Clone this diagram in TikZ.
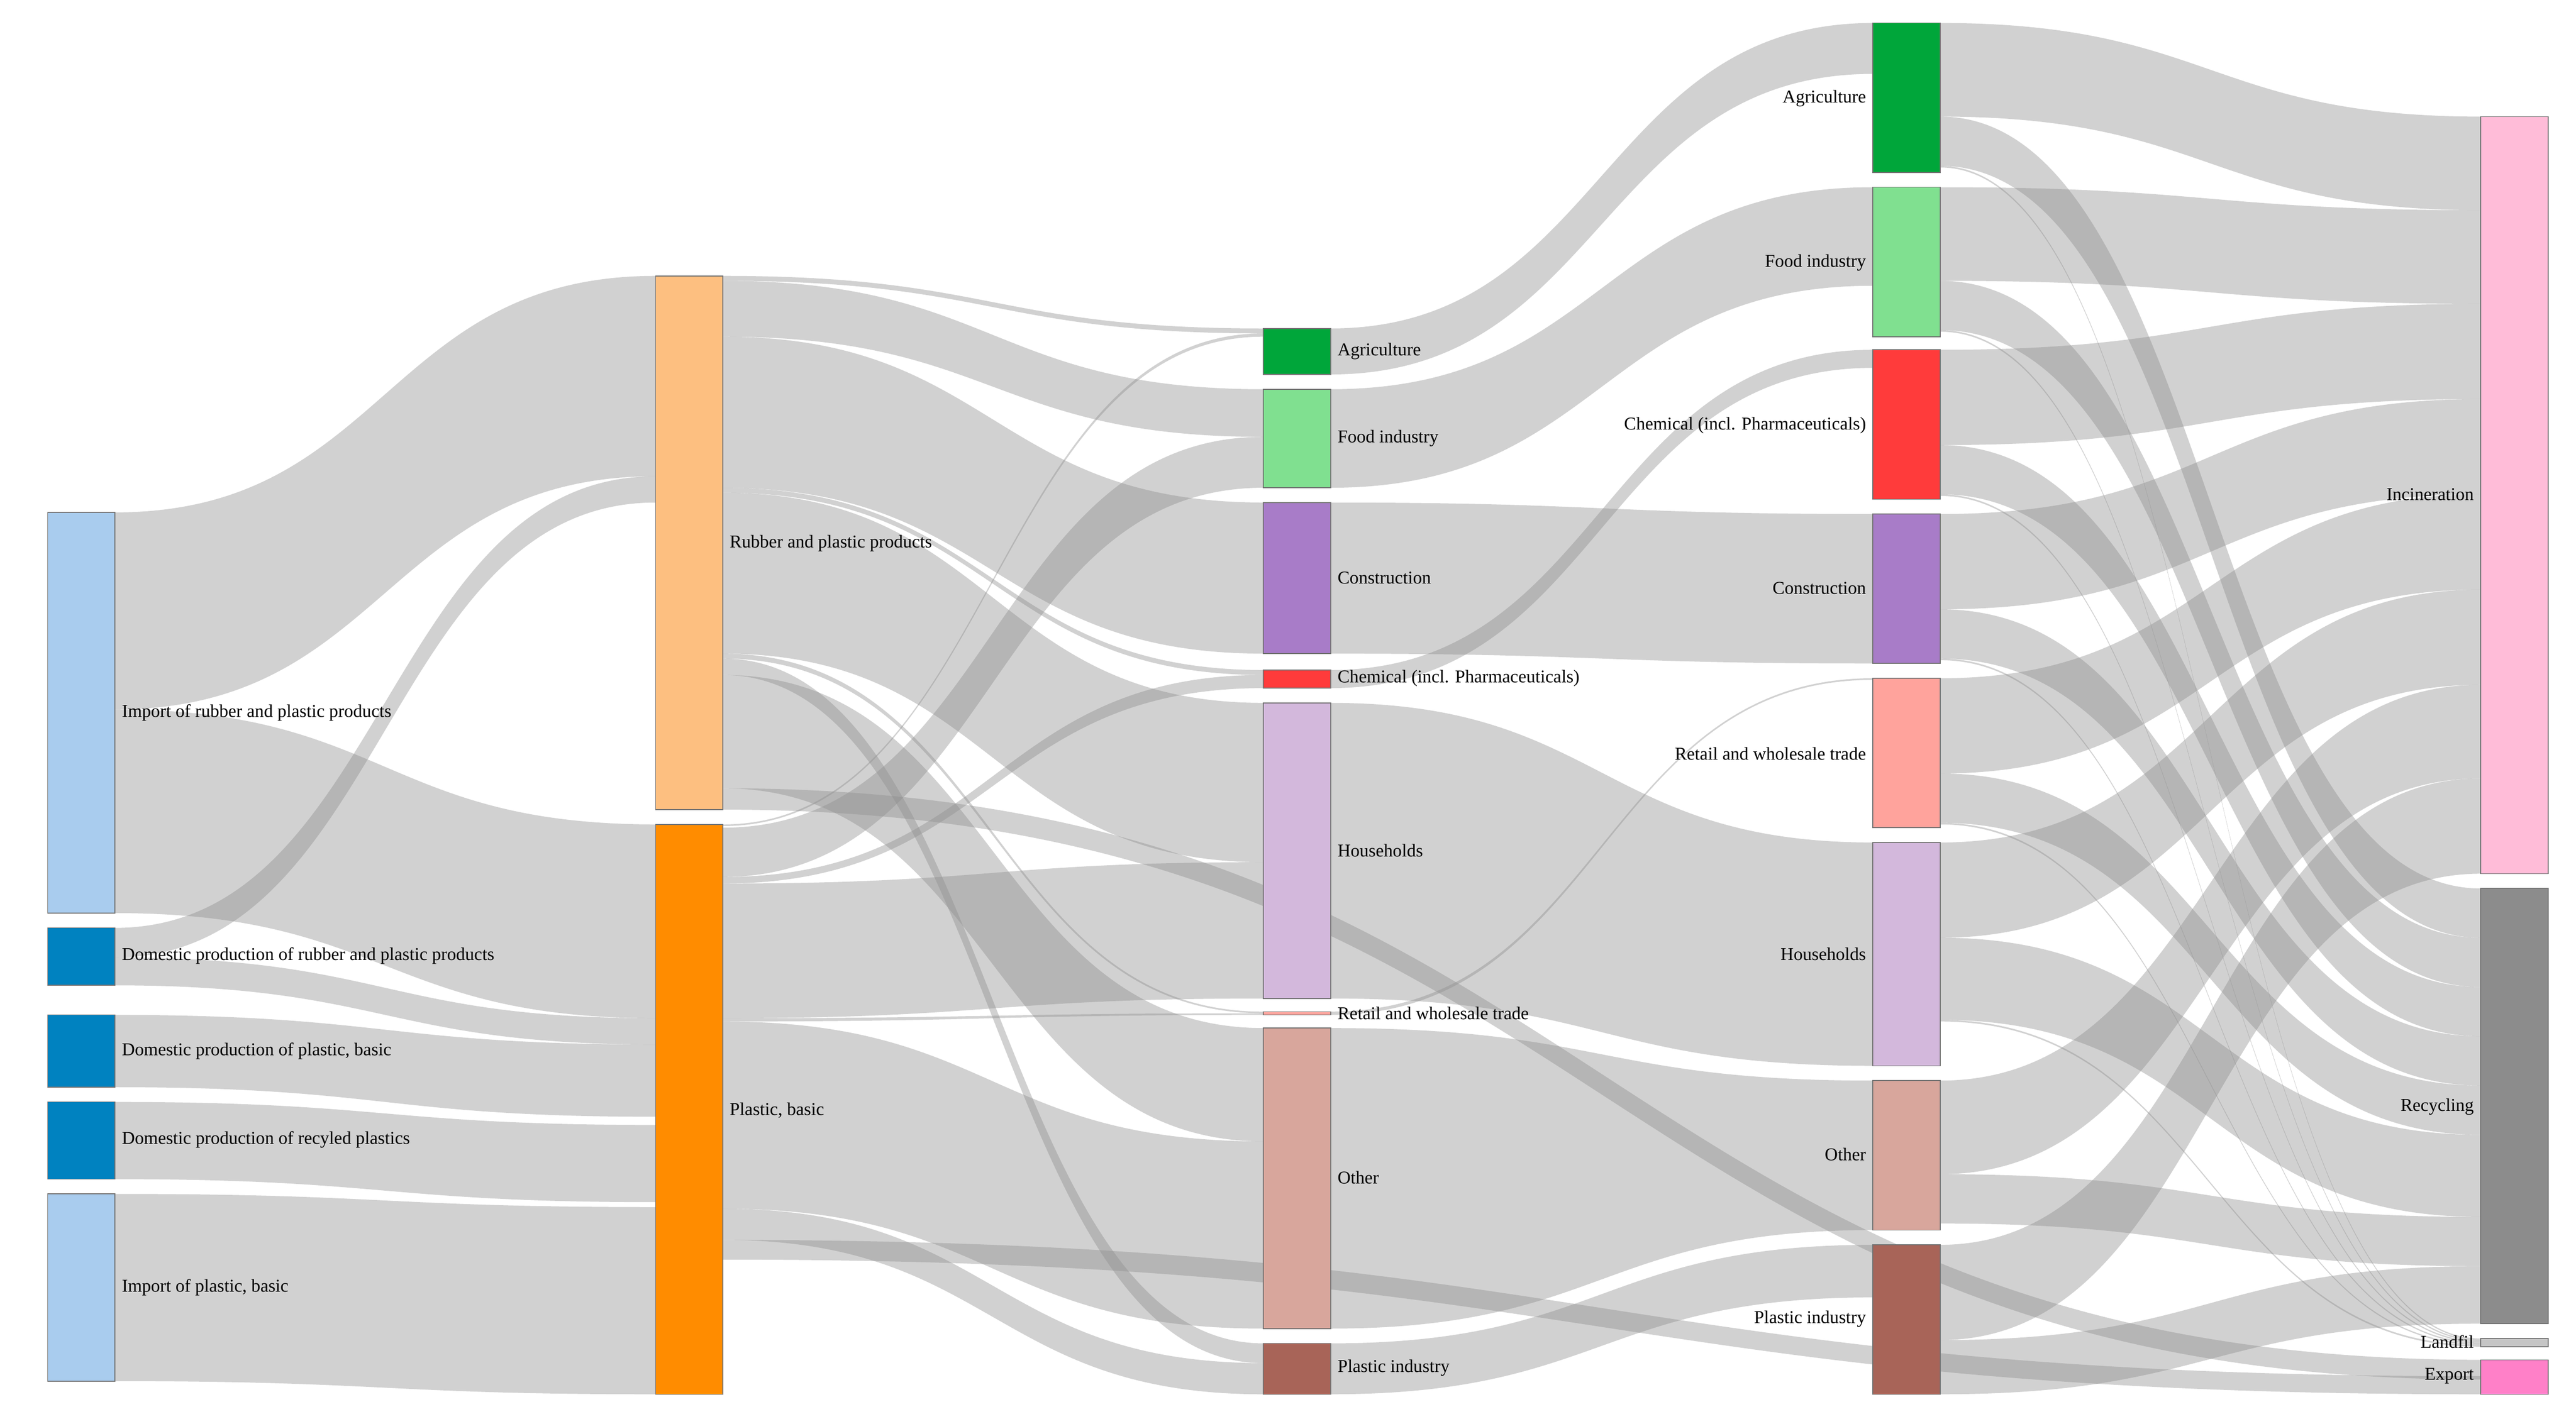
\documentclass[tikz,border=0pt]{standalone}
\usepackage{fontspec}
\setmainfont{Liberation Serif}
\begin{document}
\begin{tikzpicture}[x=1pt,y=-1pt,
  flow/.style={fill=black!45,opacity=0.4},
  box/.style={draw=black!55,line width=0.5pt},
  lbl/.style={font=\fontsize{11}{13}\selectfont,inner sep=2pt}]
\definecolor{cLB}{HTML}{A9CCEE}\definecolor{cB}{HTML}{0082C0}
\definecolor{cPe}{HTML}{FDBF80}\definecolor{cO}{HTML}{FF8C00}
\definecolor{cG}{HTML}{00A63A}\definecolor{cLG}{HTML}{80E090}
\definecolor{cPu}{HTML}{A87CC8}\definecolor{cR}{HTML}{FF3B3B}
\definecolor{cLi}{HTML}{D3B8DC}\definecolor{cSa}{HTML}{FFA39C}
\definecolor{cRo}{HTML}{D8A69C}\definecolor{cBr}{HTML}{A86458}
\definecolor{cPi}{HTML}{FFBCD8}\definecolor{cGr}{HTML}{8C8C8C}
\definecolor{cMa}{HTML}{FF80C8}
\newcommand\fl[6]{\pgfmathsetmacro\xm{(#1+#4)/2}%
  \fill[flow] (#1,#2) .. controls (\xm,#2) and (\xm,#5) .. (#4,#5) -- (#4,#6) .. controls (\xm,#6) and (\xm,#3) .. (#1,#3) -- cycle;}
\newcommand\nb[4]{\path[box,fill=#4] (#1,#2) rectangle (#1+41,#3);}
\useasboundingbox (0,0) rectangle (1568,867);
% C1 -> C2
\fl{70}{312}{432}{399}{168}{290}
\fl{70}{432}{556}{399}{502}{620}
\fl{70}{565}{583}{399}{290}{306}
\fl{70}{583}{600}{399}{620}{636}
\fl{70}{618}{662}{399}{636}{680}
\fl{70}{671}{718}{399}{685}{732}
\fl{70}{727}{841}{399}{735}{849}
% R&P -> C3
\fl{440}{168}{171}{769}{200}{203}
\fl{440}{171}{205}{769}{237}{266}
\fl{440}{205}{297}{769}{306}{398}
\fl{440}{297}{300}{769}{408}{411}
\fl{440}{300}{398}{769}{428}{525}
\fl{440}{398}{401}{769}{616}{617}
\fl{440}{401}{411}{769}{818}{830}
\fl{440}{411}{480}{769}{626}{695}
\fl{440}{480}{493}{1510}{828}{840}
% PB -> C3
\fl{440}{502}{503}{769}{203}{205}
\fl{440}{504}{534}{769}{266}{297}
\fl{440}{534}{538}{769}{411}{419}
\fl{440}{538}{620}{769}{525}{608}
\fl{440}{620}{622}{769}{617}{618}
\fl{440}{622}{736}{769}{695}{809}
\fl{440}{736}{755}{769}{830}{849}
\fl{440}{755}{767}{1510}{838}{849}
% C3 -> C4
\fl{810}{200}{228}{1140}{14}{45}
\fl{810}{237}{297}{1140}{114}{174}
\fl{810}{306}{398}{1140}{313}{404}
\fl{810}{408}{419}{1140}{213}{224}
\fl{810}{428}{608}{1140}{513}{649}
\fl{810}{616}{618}{1140}{413}{414}
\fl{810}{626}{809}{1140}{658}{749}
\fl{810}{818}{849}{1140}{758}{790}
% C4 -> incineration
\fl{1181}{14}{71}{1510}{71}{128}
\fl{1181}{114}{171}{1510}{128}{185}
\fl{1181}{213}{271}{1510}{185}{243}
\fl{1181}{313}{371}{1510}{243}{301}
\fl{1181}{413}{471}{1510}{301}{359}
\fl{1181}{513}{571}{1510}{359}{417}
\fl{1181}{658}{715}{1510}{417}{474}
\fl{1181}{758}{816}{1510}{474}{532}
% C4 -> recycling
\fl{1181}{71}{101}{1510}{541}{571}
\fl{1181}{171}{201}{1510}{571}{601}
\fl{1181}{271}{301}{1510}{601}{631}
\fl{1181}{371}{401}{1510}{631}{661}
\fl{1181}{471}{501}{1510}{661}{691}
\fl{1181}{571}{621}{1510}{691}{741}
\fl{1181}{715}{745}{1510}{741}{771}
\fl{1181}{816}{849}{1510}{771}{806}
% C4 -> landfill
\fl{1181}{101}{102}{1510}{815}{815.8}
\fl{1181}{201}{202}{1510}{815.8}{816.6}
\fl{1181}{301}{302}{1510}{816.6}{817.4}
\fl{1181}{401}{402}{1510}{817.4}{818.2}
\fl{1181}{501}{502}{1510}{818.2}{819}
\fl{1181}{621}{622}{1510}{819}{820}
% nodes
\nb{29}{312}{556}{cLB}\nb{29}{565}{600}{cB}\nb{29}{618}{662}{cB}\nb{29}{671}{718}{cB}\nb{29}{727}{841}{cLB}
\nb{399}{168}{493}{cPe}\nb{399}{502}{849}{cO}
\nb{769}{200}{228}{cG}\nb{769}{237}{297}{cLG}\nb{769}{306}{398}{cPu}\nb{769}{408}{419}{cR}
\nb{769}{428}{608}{cLi}\nb{769}{616}{618}{cSa}\nb{769}{626}{809}{cRo}\nb{769}{818}{849}{cBr}
\nb{1140}{14}{105}{cG}\nb{1140}{114}{205}{cLG}\nb{1140}{213}{304}{cR}\nb{1140}{313}{404}{cPu}
\nb{1140}{413}{504}{cSa}\nb{1140}{513}{649}{cLi}\nb{1140}{658}{749}{cRo}\nb{1140}{758}{849}{cBr}
\nb{1510}{71}{532}{cPi}\nb{1510}{541}{806}{cGr}\nb{1510}{815}{820}{cGr!50}\nb{1510}{828}{849}{cMa}
% labels
\node[lbl,anchor=west] at (72,434) {Import of rubber and plastic products};
\node[lbl,anchor=west] at (72,582) {Domestic production of rubber and plastic products};
\node[lbl,anchor=west] at (72,640) {Domestic production of plastic, basic};
\node[lbl,anchor=west] at (72,694) {Domestic production of recyled plastics};
\node[lbl,anchor=west] at (72,784) {Import of plastic, basic};
\node[lbl,anchor=west] at (442,331) {Rubber and plastic products};
\node[lbl,anchor=west] at (442,676) {Plastic, basic};
\node[lbl,anchor=west] at (812,214) {Agriculture};
\node[lbl,anchor=west] at (812,267) {Food industry};
\node[lbl,anchor=west] at (812,352) {Construction};
\node[lbl,anchor=west] at (812,413) {Chemical (incl. Pharmaceuticals)};
\node[lbl,anchor=west] at (812,518) {Households};
\node[lbl,anchor=west] at (812,617) {Retail and wholesale trade};
\node[lbl,anchor=west] at (812,717) {Other};
\node[lbl,anchor=west] at (812,833) {Plastic industry};
\node[lbl,anchor=east] at (1138,60) {Agriculture};
\node[lbl,anchor=east] at (1138,160) {Food industry};
\node[lbl,anchor=east] at (1138,259) {Chemical (incl. Pharmaceuticals)};
\node[lbl,anchor=east] at (1138,358) {Construction};
\node[lbl,anchor=east] at (1138,459) {Retail and wholesale trade};
\node[lbl,anchor=east] at (1138,581) {Households};
\node[lbl,anchor=east] at (1138,703) {Other};
\node[lbl,anchor=east] at (1138,803) {Plastic industry};
\node[lbl,anchor=east] at (1508,301) {Incineration};
\node[lbl,anchor=east] at (1508,674) {Recycling};
\node[lbl,anchor=east] at (1508,817) {Landfil};
\node[lbl,anchor=east] at (1508,838) {Export};
\end{tikzpicture}
\end{document}
